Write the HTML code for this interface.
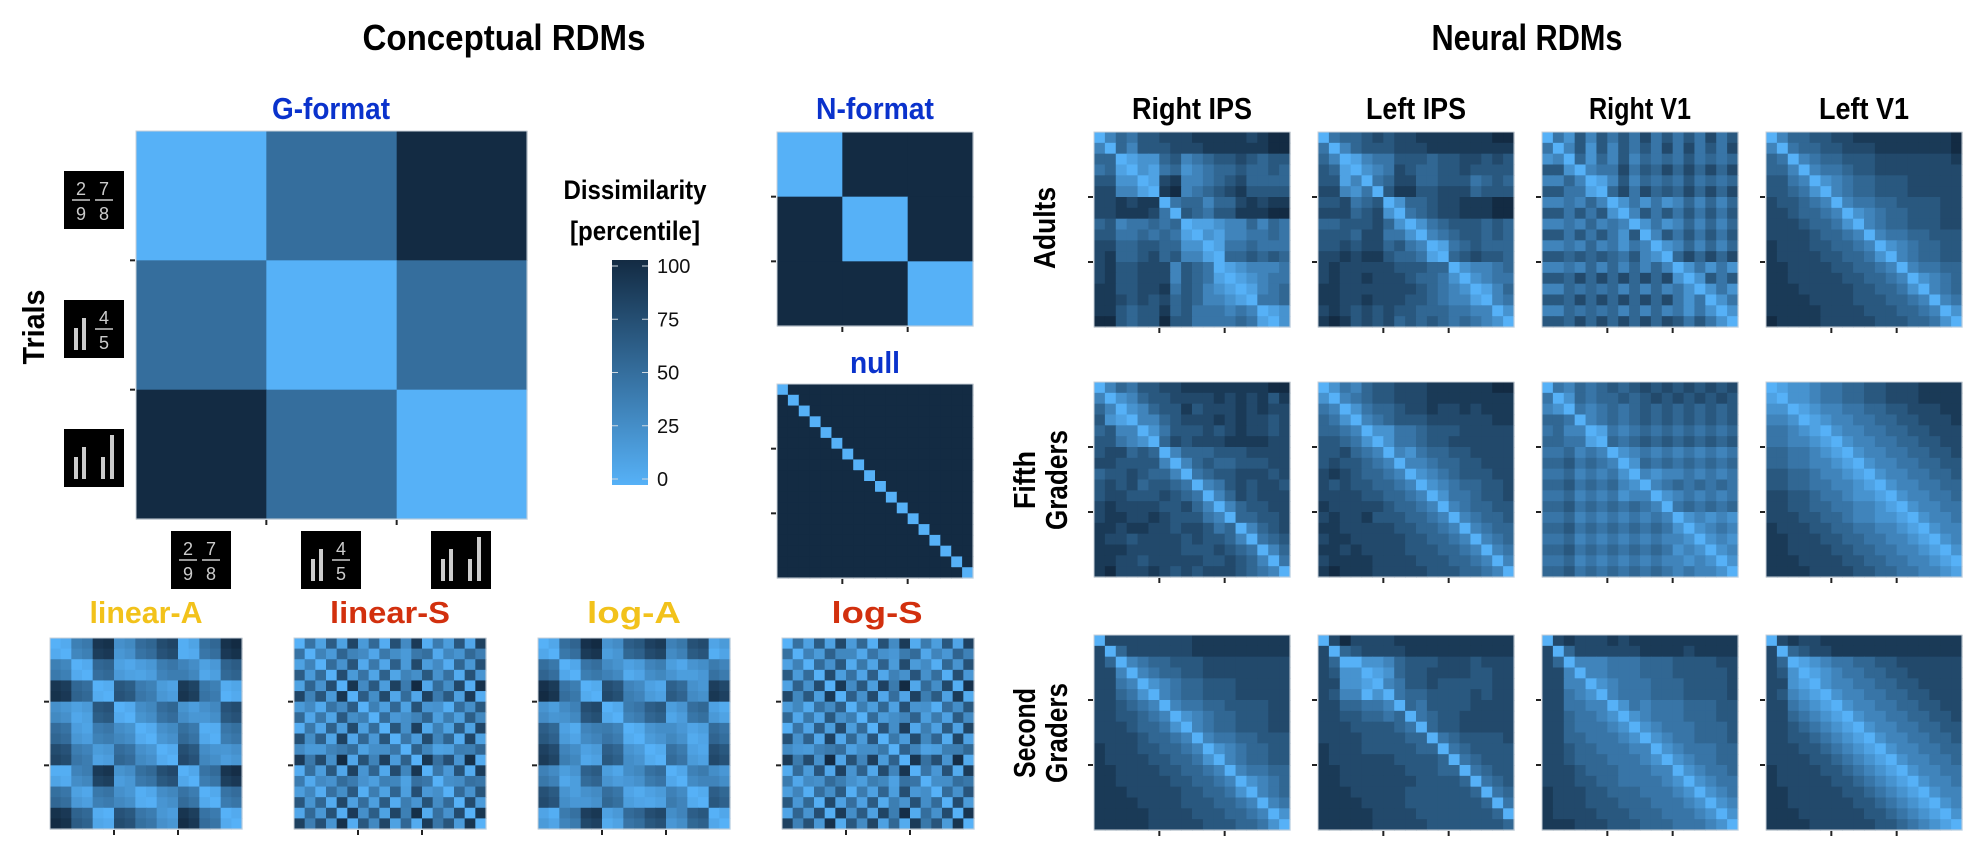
<!DOCTYPE html>
<html><head><meta charset="utf-8">
<style>
html,body{margin:0;padding:0;background:#fff;}
svg{display:block;}
text{font-family:"Liberation Sans Narrow","Liberation Sans",sans-serif;}
</style></head>
<body>
<svg id="fig" width="1974" height="845" viewBox="0 0 1974 845" xmlns="http://www.w3.org/2000/svg">
  <text x="504" y="50" font-size="36" font-weight="bold" text-anchor="middle" fill="#000" textLength="283" lengthAdjust="spacingAndGlyphs">Conceptual RDMs</text>
  <text x="1527" y="50" font-size="36" font-weight="bold" text-anchor="middle" fill="#000" textLength="191" lengthAdjust="spacingAndGlyphs">Neural RDMs</text>

  <text x="331" y="119" font-size="31" font-weight="bold" text-anchor="middle" fill="#0a32cc" textLength="118" lengthAdjust="spacingAndGlyphs">G-format</text>
  <text x="875" y="119" font-size="31" font-weight="bold" text-anchor="middle" fill="#0a32cc" textLength="118" lengthAdjust="spacingAndGlyphs">N-format</text>
  <text x="875" y="373" font-size="31" font-weight="bold" text-anchor="middle" fill="#0a32cc" textLength="50" lengthAdjust="spacingAndGlyphs">null</text>
  <text x="146" y="623" font-size="31" font-weight="bold" text-anchor="middle" fill="#f2c21b" textLength="113" lengthAdjust="spacingAndGlyphs">linear-A</text>
  <text x="390" y="623" font-size="31" font-weight="bold" text-anchor="middle" fill="#d2300e" textLength="120" lengthAdjust="spacingAndGlyphs">linear-S</text>
  <text x="634" y="623" font-size="31" font-weight="bold" text-anchor="middle" fill="#f2c21b" textLength="94" lengthAdjust="spacingAndGlyphs">log-A</text>
  <text x="877" y="623" font-size="31" font-weight="bold" text-anchor="middle" fill="#d2300e" textLength="91" lengthAdjust="spacingAndGlyphs">log-S</text>

  <text transform="translate(44,327) rotate(-90)" font-size="31" font-weight="bold" text-anchor="middle" fill="#000" textLength="75" lengthAdjust="spacingAndGlyphs">Trials</text>

  <text x="635" y="199" font-size="27" font-weight="bold" text-anchor="middle" fill="#000" textLength="143" lengthAdjust="spacingAndGlyphs">Dissimilarity</text>
  <text x="635" y="240" font-size="27" font-weight="bold" text-anchor="middle" fill="#000" textLength="130" lengthAdjust="spacingAndGlyphs">[percentile]</text>
  <defs>
    <linearGradient id="cbar" x1="0" y1="1" x2="0" y2="0">
      <stop offset="0" stop-color="#56b1f7"/>
      <stop offset="1" stop-color="#132b43"/>
    </linearGradient>
  </defs>
  <rect x="612" y="260" width="36" height="225" fill="url(#cbar)"/>
  <g id="cbar-labels"></g>

  <text x="1192" y="119" font-size="31" font-weight="bold" text-anchor="middle" fill="#000" textLength="120" lengthAdjust="spacingAndGlyphs">Right IPS</text>
  <text x="1416" y="119" font-size="31" font-weight="bold" text-anchor="middle" fill="#000" textLength="100" lengthAdjust="spacingAndGlyphs">Left IPS</text>
  <text x="1640" y="119" font-size="31" font-weight="bold" text-anchor="middle" fill="#000" textLength="102" lengthAdjust="spacingAndGlyphs">Right V1</text>
  <text x="1864" y="119" font-size="31" font-weight="bold" text-anchor="middle" fill="#000" textLength="90" lengthAdjust="spacingAndGlyphs">Left V1</text>

  <text transform="translate(1055,228) rotate(-90)" font-size="31" font-weight="bold" text-anchor="middle" fill="#000" textLength="82" lengthAdjust="spacingAndGlyphs">Adults</text>
  <text transform="translate(1035,480) rotate(-90)" font-size="31" font-weight="bold" text-anchor="middle" fill="#000"><tspan x="0" dy="0" textLength="58" lengthAdjust="spacingAndGlyphs">Fifth</tspan><tspan x="0" dy="32" textLength="100" lengthAdjust="spacingAndGlyphs">Graders</tspan></text>
  <text transform="translate(1035,733) rotate(-90)" font-size="31" font-weight="bold" text-anchor="middle" fill="#000"><tspan x="0" dy="0" textLength="90" lengthAdjust="spacingAndGlyphs">Second</tspan><tspan x="0" dy="32" textLength="100" lengthAdjust="spacingAndGlyphs">Graders</tspan></text>

  <g id="mats"></g>
  <g id="icons"></g>
</svg>
<script>
// ---------- data ----------
const cbarTicks = [0, 25, 50, 75, 100];
const gFormatBlocks = [[0,0.5,1],[0.5,0,0.5],[1,0.5,0]];
const nFormatBlocks = [[0,1,1],[1,0,1],[1,1,0]];
// per-trial magnitudes for conceptual models (18 trials)
const linearAMag = [0.10,0.14,0.40,0.44,0.85,0.88, 0.30,0.34,0.52,0.56,0.72,0.76, 0.12,0.18,0.50,0.55,0.88,0.92];
const linearSMag = [0.15,0.55,0.25,0.70,0.05,0.85, 0.30,0.62,0.18,0.78,0.40,0.92, 0.12,0.50,0.28,0.74,0.08,0.88];
const logAMag    = [0.10,0.16,0.52,0.58,0.90,0.94, 0.28,0.33,0.62,0.66,0.80,0.84, 0.40,0.46,0.70,0.74,0.18,0.24];
const logSMag    = [0.20,0.60,0.30,0.74,0.10,0.86, 0.34,0.66,0.22,0.80,0.44,0.94, 0.16,0.54,0.32,0.76,0.12,0.90];
// neural RDMs, digits 0 (similar) .. 9 (dissimilar)
const adultsRightIPS = ["035466777888887899","305366677788888899","550122563456676566","451021452345565565","662201783345675555","773310893456786666","778788045535578788","778887406546688899","563445450112335354","664454541021334454","775566552201445444","785567563310556565","786677736540123334","786677736541012344","886677846532101345","887676756533210445","886566856444343012","996566966444454102"];
const adultsLeftIPS = ["045567677888888899","403566677788888888","530134466656677676","651023476556676666","661304577556664565","773240688667775666","667456025567788899","777567204567788899","556667520245666565","666577442034566565","667677564301456555","778788655410567665","787777766655023345","787787776554202344","887777777654320135","887787776654331034","787676766555443302","898676756565454320"];
const adultsRightV1 = ["042636464746464746","403626364647474647","230525363545464545","662034474657575757","335301363545464545","664410574756575757","334353024242353535","664646203646464646","334353430242353535","664646426036464646","334353424302353535","665656546320575757","334353535353024242","665757575757202646","335454535353420242","665757575757424024","335454535353424202","665757575757646420"];
const adultsLeftV1 = ["035566778888888889","304556677788888889","540345566677777778","553034456677777777","664302345566677777","665420345566677777","766543034455666677","776554302345566677","777655420345566677","777765543034455666","877766554302345566","877776655420345566","887777665543034455","887777766554302345","888777776655420345","888877776665543034","888887777666554302","988887777766655420"];
const fifthRightIPS = ["035466778888888899","302356677778787868","530235668677787877","621033567778787767","563302466676787767","664320576777888877","677565035556667777","776666303565566677","566765530456677767","676756654034676776","677666765403576777","787777667530356677","788778766643055667","887887767764503567","877677776766530456","888777776667654035","887767777766765304","897778767677765430"];
const fifthLeftIPS = ["024356677788888899","203456677788888888","430245567787787888","542034566677777788","554302244566677777","665420244566777777","667543032455667777","676654303345566777","787655430234566677","767665543023455667","777766554302445667","877777655430345566","787786665543034556","887777766554303455","788777776655430345","887877776665543034","788887777666554303","898887777766655430"];
const fifthRightV1 = ["043545656767676767","402545565676767676","320434545656565656","554034545656565656","453301434545454545","554410545656565656","445343023434343434","556454302545454545","445343420323343434","556454532034545454","445343423302343434","556454545430454545","445343434343023232","556454545454202343","445343434343320232","556454545454232023","445343434343323202","556454545454343320"];
const fifthLeftV1 = ["012234455667778888","102234455667778888","220123344556677788","332012334455667778","443210233445566777","443321023344556677","554432102334455667","554433210233445566","665543321023344556","665544332102334455","776654432210233445","776655443321023344","777665543322102334","877766554433210233","887776655443321023","887777665544332102","888777766554433210","888877776655443321"];
const secondRightIPS = ["077777777888888888","705777777888888888","750345566677777777","773034556677777777","774302345566677777","775420345566677777","776543034455666677","776654302345566677","777655420345566677","777765543034455666","877766554302345566","877776655420345566","887777665543034455","887777766554302345","888777776655420345","888877776665543034","888887777666554302","888887777766655420"];
const secondLeftIPS = ["079777788888888888","705677778888888888","750022356667776777","762201256677776677","772210346676666677","763302045566667677","775544305466667777","776655450456677777","777666654056677777","777766665504566667","877766666550456666","877777766665045666","887777776665504566","887777777666650456","888777776666665045","888877776666666504","888887777666666650","888887777766666665"];
const secondRightV1 = ["078777878888888888","705777777888878888","750333444555666677","773033444555666667","773302344455566667","774320344455566667","774433024344455566","775443202344455566","775444320234445556","775544432023445556","776554443302344455","776555444320234455","777655544433023445","777665544443202344","877766555444320234","877766655544432023","877776665554443202","888777666555444320"];
const secondLeftV1 = ["078778888888888888","705677888888888888","750123445566777777","762012344556677777","772102334455667777","763210233445566777","774321023344556677","775432102334455667","776543210233445566","776654321023344556","777665432102334455","777766543210233445","877776654321023344","877777665432102334","887777766543210233","887777776654321023","888777777665432102","888877777766543210"];

// ---------- helpers ----------
const NS = "http://www.w3.org/2000/svg";
const svg = document.getElementById("fig");
const mats = document.getElementById("mats");
const lo = [86,177,247], hi = [19,43,67];
function col(v){
  v = Math.max(0, Math.min(1, v));
  const c = lo.map((a,i)=>Math.round(a+(hi[i]-a)*v));
  return "rgb("+c.join(",")+")";
}
function absDiffMatrix(mag){
  let m = mag.map(a=>mag.map(b=>Math.abs(a-b)));
  let mx = 0; m.forEach(r=>r.forEach(v=>{ if(v>mx) mx=v; }));
  return m.map(r=>r.map(v=>v/mx));
}
function digitMatrix(rows){ return rows.map(r=>r.split("").map(ch=>(+ch)/9)); }
function blockMatrix(blocks, n){
  const k = blocks.length, per = n/k;
  const m = [];
  for(let i=0;i<n;i++){ m.push([]); for(let j=0;j<n;j++) m[i].push(blocks[Math.floor(i/per)][Math.floor(j/per)]); }
  return m;
}
function nullMatrix(n){
  const m=[]; for(let i=0;i<n;i++){ m.push([]); for(let j=0;j<n;j++) m[i].push(i===j?0:1); } return m;
}
function drawMatrix(name, m, x, y, w, h, bottomTicks){
  const g = document.createElementNS(NS,"g");
  
  
  const n = m.length;
  const cw = w/n, ch = h/m[0].length;
  for(let i=0;i<n;i++) for(let j=0;j<n;j++){
    const r = document.createElementNS(NS,"rect");
    r.setAttribute("x", (x+j*cw).toFixed(2));
    r.setAttribute("y", (y+i*ch).toFixed(2));
    r.setAttribute("width", (cw+0.6).toFixed(2));
    r.setAttribute("height", (ch+0.6).toFixed(2));
    r.setAttribute("fill", col(m[i][j]));
    
    
    g.appendChild(r);
  }
  const b = document.createElementNS(NS,"rect");
  b.setAttribute("x",x); b.setAttribute("y",y); b.setAttribute("width",w); b.setAttribute("height",h);
  b.setAttribute("fill","none"); b.setAttribute("stroke","#c8d0d8"); b.setAttribute("stroke-width","1");
  g.appendChild(b);
  [1/3,2/3].forEach(f=>{
    const t = document.createElementNS(NS,"line");
    t.setAttribute("x1",x-6); t.setAttribute("x2",x-1);
    t.setAttribute("y1",y+h*f); t.setAttribute("y2",y+h*f);
    t.setAttribute("stroke","#222"); t.setAttribute("stroke-width","2");
    g.appendChild(t);
    if(bottomTicks!==false){
      const t2 = document.createElementNS(NS,"line");
      t2.setAttribute("x1",x+w*f); t2.setAttribute("x2",x+w*f);
      t2.setAttribute("y1",y+h+1); t2.setAttribute("y2",y+h+6);
      t2.setAttribute("stroke","#222"); t2.setAttribute("stroke-width","2");
      g.appendChild(t2);
    }
  });
  mats.appendChild(g);
}

// ---------- conceptual ----------
drawMatrix("g-format-rdm", blockMatrix(gFormatBlocks,3), 136, 131, 391, 388);
drawMatrix("n-format-rdm", blockMatrix(nFormatBlocks,3), 777, 132, 196, 194);
drawMatrix("null-rdm", nullMatrix(18), 777, 384, 196, 194);
drawMatrix("linear-a-rdm", absDiffMatrix(linearAMag), 50, 638, 192, 191);
drawMatrix("linear-s-rdm", absDiffMatrix(linearSMag), 294, 638, 192, 191);
drawMatrix("log-a-rdm", absDiffMatrix(logAMag), 538, 638, 192, 191);
drawMatrix("log-s-rdm", absDiffMatrix(logSMag), 782, 638, 192, 191);

// ---------- neural ----------
const neural = [
  ["adults-right-ips", adultsRightIPS, 0, 0], ["adults-left-ips", adultsLeftIPS, 1, 0],
  ["adults-right-v1", adultsRightV1, 2, 0], ["adults-left-v1", adultsLeftV1, 3, 0],
  ["fifth-right-ips", fifthRightIPS, 0, 1], ["fifth-left-ips", fifthLeftIPS, 1, 1],
  ["fifth-right-v1", fifthRightV1, 2, 1], ["fifth-left-v1", fifthLeftV1, 3, 1],
  ["second-right-ips", secondRightIPS, 0, 2], ["second-left-ips", secondLeftIPS, 1, 2],
  ["second-right-v1", secondRightV1, 2, 2], ["second-left-v1", secondLeftV1, 3, 2]
];
const colX = [1094, 1318, 1542, 1766];
const rowY = [132, 382, 635];
neural.forEach(([nm, rows, c, r])=>{
  drawMatrix(nm+"-rdm", digitMatrix(rows), colX[c], rowY[r], 196, 195);
});

// ---------- colorbar labels ----------
const cl = document.getElementById("cbar-labels");
cbarTicks.forEach(v=>{
  const yy = 479 - (479-266)*v/100;
  const t = document.createElementNS(NS,"text");
  t.setAttribute("x",657); t.setAttribute("y",yy+7);
  t.setAttribute("font-size","20");
  t.setAttribute("font-family","Liberation Sans, sans-serif");
  t.setAttribute("fill","#111");
  t.textContent = v;
  
  
  cl.appendChild(t);
  [[612,618],[642,648]].forEach(([a,b])=>{
    const l = document.createElementNS(NS,"line");
    l.setAttribute("x1",a); l.setAttribute("x2",b); l.setAttribute("y1",yy); l.setAttribute("y2",yy);
    l.setAttribute("stroke","#cfd8e0"); l.setAttribute("stroke-width","1");
    cl.appendChild(l);
  });
});

// ---------- stimulus icons ----------
const icons = document.getElementById("icons");
function icon(name, kind, x, y){
  const g = document.createElementNS(NS,"g");
  
  
  g.setAttribute("transform","translate("+x+","+y+")");
  let s = '<rect x="0" y="0" width="60" height="58" fill="#000"/>';
  const frac = (cx,a,b)=>'<text x="'+cx+'" y="24" font-size="18" font-family="Liberation Sans, sans-serif" fill="#ccc" text-anchor="middle">'+a+'</text><line x1="'+(cx-9)+'" x2="'+(cx+9)+'" y1="29" y2="29" stroke="#ccc" stroke-width="1.5"/><text x="'+cx+'" y="49" font-size="18" font-family="Liberation Sans, sans-serif" fill="#ccc" text-anchor="middle">'+b+'</text>';
  const bar = (bx,h)=>'<rect x="'+bx+'" y="'+(50-h)+'" width="4" height="'+h+'" fill="#ccc"/>';
  if(kind===1) s += frac(17,"2","9") + frac(40,"7","8");
  if(kind===2) s += bar(10,22) + bar(18,32) + frac(40,"4","5");
  if(kind===3) s += bar(10,22) + bar(18,32) + bar(37,22) + bar(46,44);
  g.innerHTML = s;
  icons.appendChild(g);
}
icon("trial-icon-row-1",1,64,171);
icon("trial-icon-row-2",2,64,300);
icon("trial-icon-row-3",3,64,429);
icon("trial-icon-col-1",1,171,531);
icon("trial-icon-col-2",2,301,531);
icon("trial-icon-col-3",3,431,531);
</script>
</body></html>
